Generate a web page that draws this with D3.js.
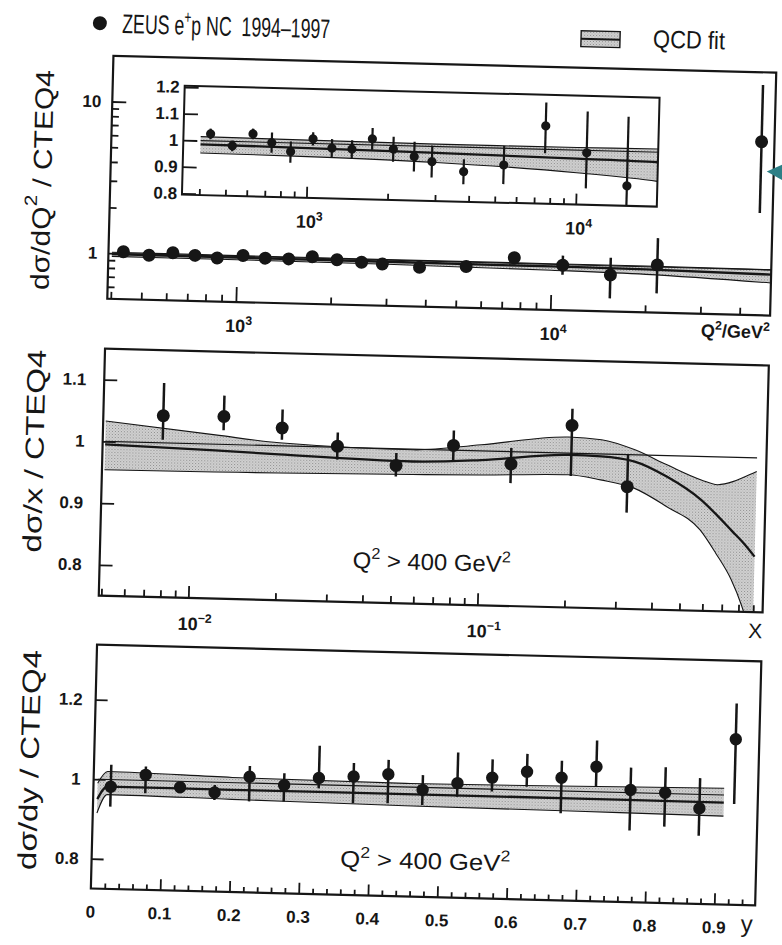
<!DOCTYPE html>
<html>
<head>
<meta charset="utf-8">
<script src="https://cdn.jsdelivr.net/npm/d3@7"></script>
<style>
  html, body { margin: 0; padding: 0; background: #fff; }
  svg { display: block; }
  text { font-family: "Liberation Sans", Arial, Helvetica, sans-serif; fill: #161616; }
</style>
</head>
<body>
<svg id="chart" width="782" height="945"></svg>
<script>
// ---------------- data: ZEUS e+p NC 1994-1997, ratio to CTEQ4 ----------------

// dσ/dQ²
const q2Centres = [435, 525, 625, 735, 865, 1045, 1230, 1460, 1735, 2080, 2490, 2900, 3810, 5360, 7610, 10860, 15420, 21700, 45500];
const q2Ratio   = [1.026, 0.983, 1.030, 0.999, 0.967, 1.017, 0.984, 0.982, 1.023, 0.986, 0.960, 0.943, 0.908, 0.937, 1.088, 0.991, 0.870, 1.03, 6.96];
const q2Low     = [1.006, 0.963, 1.010, 0.961, 0.925, 0.992, 0.950, 0.948, 0.982, 0.939, 0.904, 0.883, 0.861, 0.865, 0.985, 0.857, 0.61, 0.67, 2.36];
const q2High    = [1.046, 1.003, 1.050, 1.037, 1.005, 1.042, 1.018, 1.016, 1.064, 1.033, 1.016, 1.003, 0.955, 1.009, 1.176, 1.146, 1.13, 1.55, 16.5];

// QCD fit band versus Q²
const fitQ2     = [400, 1000, 3000, 10000, 20000, 50000];
const fitQ2Mid  = [0.986, 0.982, 0.976, 0.968, 0.962, 0.930];
const fitQ2Low  = [0.953, 0.950, 0.940, 0.915, 0.890, 0.820];
const fitQ2High = [1.015, 1.012, 1.009, 1.010, 1.012, 1.000];

// dσ/dx
const xCentres = [0.0079, 0.0128, 0.0204, 0.0318, 0.0509, 0.0801, 0.127, 0.205, 0.322];
const xRatio   = [1.044, 1.045, 1.029, 1.0015, 0.973, 1.0075, 0.980, 1.045, 0.948];
const xLow     = [1.005, 1.023, 1.010, 0.980, 0.955, 0.982, 0.949, 0.963, 0.906];
const xHigh    = [1.097, 1.079, 1.059, 1.024, 0.993, 1.032, 1.006, 1.072, 1.000];

// QCD fit band versus x
const fitX     = [0.005, 0.012, 0.02, 0.058, 0.1, 0.2, 0.26, 0.34, 0.44, 0.58, 0.66, 0.75, 0.82, 0.9];
const fitXMid  = [0.995, 0.990, 0.986, 0.980, 0.985, 0.997, 0.996, 0.989, 0.966, 0.930, 0.906, 0.880, 0.862, 0.840];
const fitXHigh = [1.033, 1.015, 1.005, 0.999, 1.010, 1.026, 1.023, 1.008, 0.985, 0.962, 0.955, 0.961, 0.969, 0.978];
const fitXLow  = [0.954, 0.955, 0.956, 0.959, 0.961, 0.965, 0.958, 0.946, 0.918, 0.881, 0.844, 0.802, 0.760, 0.700];

// dσ/dy
const yCentres = [0.025, 0.075, 0.125, 0.175, 0.225, 0.275, 0.325, 0.375, 0.425, 0.475, 0.525, 0.575, 0.625, 0.675, 0.725, 0.775, 0.825, 0.875, 0.925];
const yRatio   = [0.982, 1.014, 0.985, 0.974, 1.016, 0.997, 1.017, 1.023, 1.031, 0.994, 1.013, 1.029, 1.046, 1.033, 1.063, 1.007, 1.002, 0.965, 1.141];
const yLow     = [0.932, 0.968, 0.973, 0.955, 0.954, 0.956, 0.991, 0.956, 0.958, 0.956, 0.979, 0.994, 1.0085, 0.944, 1.013, 0.905, 0.917, 0.896, 0.978];
const yHigh    = [1.037, 1.035, 0.997, 0.993, 1.043, 1.027, 1.098, 1.057, 1.067, 1.031, 1.090, 1.075, 1.091, 1.076, 1.129, 1.063, 1.066, 1.041, 1.231];

// QCD fit band versus y (bends away at very low y)
const fitY     = [0.006, 0.02, 0.2, 0.45, 0.7, 0.91];
const fitYMid  = [0.950, 0.982, 0.982, 0.982, 0.982, 0.981];
const fitYHigh = [0.990, 1.020, 1.013, 1.009, 1.013, 1.017];
const fitYLow  = [0.915, 0.962, 0.958, 0.953, 0.950, 0.947];

// tick labels
const q2MajorTicks   = [1e3, 1e4];
const q2MajorExp     = ["3", "4"];
const q2RatioTicks   = [1, 10];
const q2RatioLabels  = ["1", "10"];
const insetTicks     = [0.8, 0.9, 1, 1.1, 1.2];
const insetLabels    = ["0.8", "0.9", "1", "1.1", "1.2"];
const xMajorTicks    = [0.01, 0.1];
const xMajorExp      = ["\u22122", "\u22121"];
const xRatioTicks    = [0.8, 0.9, 1, 1.1];
const xRatioLabels   = ["0.8", "0.9", "1", "1.1"];
const yMajorTicks    = [0, 0.1, 0.2, 0.3, 0.4, 0.5, 0.6, 0.7, 0.8, 0.9];
const yMajorLabels   = ["0", "0.1", "0.2", "0.3", "0.4", "0.5", "0.6", "0.7", "0.8", "0.9"];
const yRatioTicks    = [0.8, 1, 1.2];
const yRatioLabels   = ["0.8", "1", "1.2"];

// ---------------- drawing ----------------
const INK = "#161616";
const svg = d3.select("#chart");
const defs = svg.append("defs");

// halftone fill for the fit uncertainty band
const pat = defs.append("pattern").attr("id", "halftone")
  .attr("width", 3).attr("height", 3).attr("patternUnits", "userSpaceOnUse");
pat.append("rect").attr("width", 3).attr("height", 3).attr("fill", "#d3d3d3");
pat.append("rect").attr("x", 0).attr("y", 0).attr("width", 1).attr("height", 1).attr("fill", "#8a8a8a");
pat.append("rect").attr("x", 1.5).attr("y", 1.5).attr("width", 1).attr("height", 1).attr("fill", "#a2a2a2");

function addClip(id, p) {
  defs.append("clipPath").attr("id", id).append("rect")
    .attr("x", p.x0).attr("y", p.y0).attr("width", p.x1 - p.x0).attr("height", p.y1 - p.y0);
}

// the printed page sits slightly turned
const root = svg.append("g").attr("transform", "rotate(1.45 391 472)");

function rich(g, x, y, parts, o = {}) {
  const fs = o.size || 18;
  const t = g.append("text").attr("x", x).attr("y", y)
    .attr("font-size", fs)
    .attr("text-anchor", o.anchor || "start")
    .attr("font-weight", o.weight || "normal")
    .style("white-space", "pre");
  if (o.length) t.attr("textLength", o.length).attr("lengthAdjust", "spacingAndGlyphs");
  if (o.transform) t.attr("transform", o.transform);
  if (o.baseline) t.attr("dominant-baseline", o.baseline);
  let raised = false;
  parts.forEach(p => {
    const sup = Array.isArray(p);
    const s = t.append("tspan").text(sup ? p[0] : p);
    if (sup) {
      s.attr("font-size", fs * 0.68);
      if (!raised) s.attr("dy", -fs * 0.42);
      raised = true;
    } else if (raised) {
      s.attr("dy", fs * 0.42);
      raised = false;
    }
  });
  return t;
}

function ticks(g, axisFn, scale, pos, values, len, horizontal, width) {
  const ax = g.append("g")
    .attr("transform", horizontal ? `translate(0,${pos})` : `translate(${pos},0)`)
    .call(axisFn(scale).tickValues(values).tickSizeInner(-len).tickSizeOuter(0).tickFormat(""));
  ax.select(".domain").remove();
  ax.selectAll(".tick text").remove();
  ax.selectAll(".tick line").attr("stroke", INK).attr("stroke-width", width || 1.8);
}

function frame(g, p, w) {
  g.append("rect").attr("x", p.x0).attr("y", p.y0)
    .attr("width", p.x1 - p.x0).attr("height", p.y1 - p.y0)
    .attr("fill", "none").attr("stroke", INK).attr("stroke-width", w || 2.2);
}

function fitBand(g, xs, mid, lo, hi, sx, sy, clipId) {
  const rows = xs.map((x, i) => ({ x, mid: mid[i], lo: lo[i], hi: hi[i] }));
  const gg = g.append("g").attr("clip-path", `url(#${clipId})`);
  gg.append("path").datum(rows)
    .attr("d", d3.area().x(d => sx(d.x)).y0(d => sy(d.lo)).y1(d => sy(d.hi)).curve(d3.curveMonotoneX))
    .attr("fill", "url(#halftone)");
  const edge = key => d3.line().x(d => sx(d.x)).y(d => sy(d[key])).curve(d3.curveMonotoneX);
  gg.append("path").datum(rows).attr("d", edge("hi")).attr("fill", "none").attr("stroke", INK).attr("stroke-width", 1.1);
  gg.append("path").datum(rows).attr("d", edge("lo")).attr("fill", "none").attr("stroke", INK).attr("stroke-width", 1.1);
  // CTEQ4 reference (ratio = 1)
  gg.append("line")
    .attr("x1", sx(xs[0])).attr("x2", sx(xs[xs.length - 1]))
    .attr("y1", sy(1)).attr("y2", sy(1))
    .attr("stroke", INK).attr("stroke-width", 1.1);
  gg.append("path").datum(rows).attr("d", edge("mid")).attr("fill", "none").attr("stroke", INK).attr("stroke-width", 2.3);
}

function points(g, xs, ys, lo, hi, sx, sy, r, clipId, bw) {
  const rows = xs.map((x, i) => ({ x, y: ys[i], lo: lo[i], hi: hi[i] }));
  const gg = g.append("g").attr("clip-path", `url(#${clipId})`);
  gg.selectAll("line.err").data(rows).join("line").attr("class", "err")
    .attr("x1", d => sx(d.x)).attr("x2", d => sx(d.x))
    .attr("y1", d => sy(d.lo)).attr("y2", d => sy(d.hi))
    .attr("stroke", INK).attr("stroke-width", bw || 2.5);
  gg.selectAll("circle").data(rows).join("circle")
    .attr("cx", d => sx(d.x)).attr("cy", d => sy(d.y)).attr("r", r)
    .attr("fill", INK);
}

// ---------- legend ----------
root.append("circle").attr("cx", 88.6).attr("cy", 30.7).attr("r", 7).attr("fill", INK);
rich(root, 111, 40, ["ZEUS e", ["+"], "p NC  1994\u20131997"], { size: 27, length: 208 });
const lg = root.append("g");
lg.append("rect").attr("x", 570).attr("y", 26).attr("width", 39).attr("height", 16)
  .attr("fill", "url(#halftone)").attr("stroke", INK).attr("stroke-width", 1.4);
lg.append("line").attr("x1", 570).attr("x2", 609).attr("y1", 34).attr("y2", 34)
  .attr("stroke", INK).attr("stroke-width", 2);
rich(root, 642, 41, ["QCD fit"], { size: 25, length: 72 });

// ---------- panel 1: dσ/dQ² ----------
const P1 = { x0: 103, x1: 766, y0: 63, y1: 306 };
addClip("clipQ2", P1);
const xQ = d3.scaleLog().domain([390, 50000]).range([P1.x0, P1.x1]);
const yQ = d3.scaleLog().domain([0.5, 20]).range([P1.y1, P1.y0]);
const g1 = root.append("g");

fitBand(g1, fitQ2, fitQ2Mid, fitQ2Low, fitQ2High, xQ, yQ, "clipQ2");
points(g1, q2Centres, q2Ratio, q2Low, q2High, xQ, yQ, 6.5, "clipQ2");
frame(g1, P1);
ticks(g1, d3.axisBottom, xQ, P1.y1, q2MajorTicks, 15, true);
ticks(g1, d3.axisBottom, xQ, P1.y1, xQ.ticks().filter(v => !q2MajorTicks.includes(v) && v > 390 && v < 50000), 7, true);
ticks(g1, d3.axisLeft, yQ, P1.x0, q2RatioTicks, 14, false);
ticks(g1, d3.axisLeft, yQ, P1.x0, yQ.ticks().filter(v => !q2RatioTicks.includes(v) && v > 0.5 && v < 20), 7, false);

q2RatioTicks.forEach((v, i) => rich(g1, P1.x0 - 11, yQ(v) + 6, [q2RatioLabels[i]], { size: 17, anchor: "end", weight: "bold" }));
q2MajorTicks.forEach((v, i) => rich(g1, xQ(v) - 10, 336, ["10", [q2MajorExp[i]]], { size: 18, weight: "bold" }));
rich(g1, P1.x1, 329, ["Q", ["2"], "/GeV", ["2"]], { size: 18, anchor: "end", weight: "bold" });
rich(g1, 0, 0, ["d\u03c3/dQ", ["2"], " / CTEQ4"],
  { size: 26, anchor: "middle", baseline: "central", length: 220, transform: "translate(35,189) rotate(-90)" });

// inset: zoomed ratio scale
const P1i = { x0: 175, x1: 650, y0: 91, y1: 200 };
addClip("clipInset", P1i);
const xQi = d3.scaleLog().domain([345, 20000]).range([P1i.x0, P1i.x1]);
const yQi = d3.scaleLinear().domain([0.795, 1.205]).range([P1i.y1, P1i.y0]);
const gi = root.append("g");
gi.append("rect").attr("x", P1i.x0).attr("y", P1i.y0).attr("width", P1i.x1 - P1i.x0).attr("height", P1i.y1 - P1i.y0).attr("fill", "#fff");
fitBand(gi, fitQ2, fitQ2Mid, fitQ2Low, fitQ2High, xQi, yQi, "clipInset");
const nIn = q2Centres.filter(v => v < 20000).length;
points(gi, q2Centres.slice(0, nIn), q2Ratio.slice(0, nIn), q2Low.slice(0, nIn), q2High.slice(0, nIn), xQi, yQi, 4.6, "clipInset", 2.2);
frame(gi, P1i, 2);
ticks(gi, d3.axisBottom, xQi, P1i.y1, q2MajorTicks, 11, true);
ticks(gi, d3.axisBottom, xQi, P1i.y1, xQi.ticks().filter(v => !q2MajorTicks.includes(v) && v > 345 && v < 20000), 6, true);
ticks(gi, d3.axisLeft, yQi, P1i.x0, insetTicks, 14, false);
insetTicks.forEach((v, i) => rich(gi, P1i.x0 - 5, yQi(v) + 6, [insetLabels[i]], { size: 17, anchor: "end", weight: "bold" }));
q2MajorTicks.forEach((v, i) => rich(gi, xQi(v) - 10, 230, ["10", [q2MajorExp[i]]], { size: 18, weight: "bold" }));

// ---------- panel 2: dσ/dx ----------
const P2 = { x0: 102, x1: 766, y0: 356, y1: 603 };
addClip("clipX", P2);
const xX = d3.scaleLog().domain([0.0049, 0.97]).range([P2.x0, P2.x1]);
const yX = d3.scaleLinear().domain([0.75, 1.15]).range([P2.y1, P2.y0]);
const g2 = root.append("g");
fitBand(g2, fitX, fitXMid, fitXLow, fitXHigh, xX, yX, "clipX");
points(g2, xCentres, xRatio, xLow, xHigh, xX, yX, 6.5, "clipX");
frame(g2, P2);
ticks(g2, d3.axisBottom, xX, P2.y1, xMajorTicks, 12, true);
ticks(g2, d3.axisBottom, xX, P2.y1, xX.ticks().filter(v => !xMajorTicks.includes(v) && v > 0.0049 && v < 0.97), 7, true);
ticks(g2, d3.axisLeft, yX, P2.x0, xRatioTicks, 13, false);
xRatioTicks.forEach((v, i) => rich(g2, P2.x0 - 18, yX(v) + 6, [xRatioLabels[i]], { size: 17, anchor: "end", weight: "bold" }));
xMajorTicks.forEach((v, i) => rich(g2, xX(v) - 10, 635, ["10", [xMajorExp[i]]], { size: 18, weight: "bold" }));
rich(g2, 759, 629, ["X"], { size: 21, anchor: "middle" });
rich(g2, 355, 569, ["Q", ["2"], " > 400 GeV", ["2"]], { size: 23, length: 158 });
rich(g2, 0, 0, ["d\u03c3/x / CTEQ4"],
  { size: 26, anchor: "middle", baseline: "central", length: 203, transform: "translate(34,460) rotate(-90)" });

// ---------- panel 3: dσ/dy ----------
const P3 = { x0: 101.5, x1: 766, y0: 652, y1: 896 };
addClip("clipY", P3);
const xY = d3.scaleLinear().domain([0, 0.959]).range([P3.x0, P3.x1]);
const yY = d3.scaleLinear().domain([0.725, 1.338]).range([P3.y1, P3.y0]);
const g3 = root.append("g");
fitBand(g3, fitY, fitYMid, fitYLow, fitYHigh, xY, yY, "clipY");
points(g3, yCentres, yRatio, yLow, yHigh, xY, yY, 6.2, "clipY");
frame(g3, P3);
const yMinor = d3.range(1, 48).map(k => k / 50).filter(v => Math.abs(v * 10 - Math.round(v * 10)) > 1e-6);
ticks(g3, d3.axisBottom, xY, P3.y1, yMajorTicks.filter(v => v > 0), 11, true);
ticks(g3, d3.axisBottom, xY, P3.y1, yMinor, 5.5, true);
ticks(g3, d3.axisLeft, yY, P3.x0, yRatioTicks, 12, false);
yRatioTicks.forEach((v, i) => rich(g3, P3.x0 - 13, yY(v) + 6, [yRatioLabels[i]], { size: 17, anchor: "end", weight: "bold" }));
yMajorTicks.forEach((v, i) => rich(g3, xY(v), 925, [yMajorLabels[i]], { size: 17, anchor: "middle", weight: "bold" }));
rich(g3, 758, 923, ["y"], { size: 24, anchor: "middle" });
rich(g3, 350, 868, ["Q", ["2"], " > 400 GeV", ["2"]], { size: 23, length: 170 });
rich(g3, 0, 0, ["d\u03c3/dy / CTEQ4"],
  { size: 26, anchor: "middle", baseline: "central", length: 220, transform: "translate(37,769) rotate(-90)" });

// margin pointer at the right edge
root.append("path").attr("d", "M759,162 L778,153 L778,172 Z").attr("fill", "#2d7f86");
</script>
</body>
</html>
